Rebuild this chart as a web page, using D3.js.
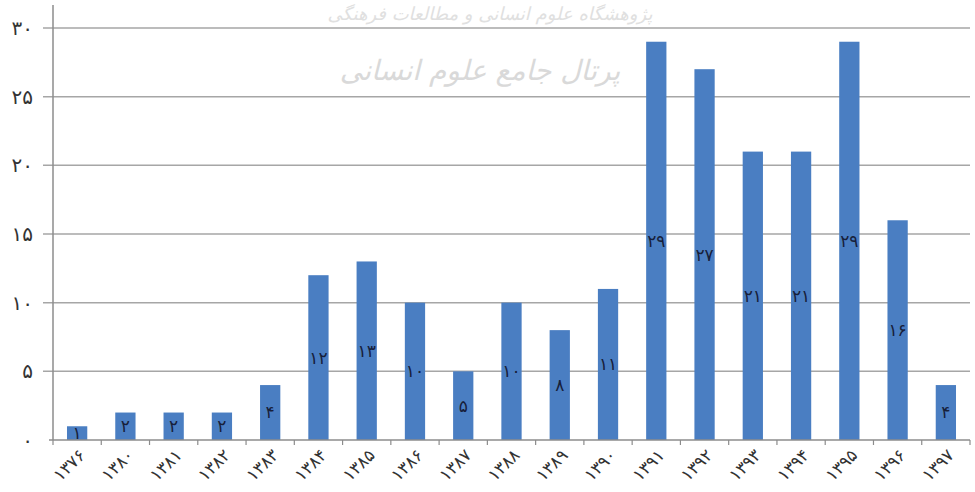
<!DOCTYPE html>
<html>
<head>
<meta charset="utf-8">
<script src="https://cdn.jsdelivr.net/npm/d3@7"></script>
<style>
  html, body { margin: 0; padding: 0; background: #fff; }
  svg { display: block; }
</style>
</head>
<body>
<div id="chart"></div>
<script>
// Persian-year categories and article counts
const years = [1376, 1380, 1381, 1382, 1383, 1384, 1385, 1386, 1387, 1388,
  1389, 1390, 1391, 1392, 1393, 1394, 1395, 1396, 1397];
const counts = [1, 2, 2, 2, 4, 12, 13, 10, 5, 10, 8, 11, 29, 27, 21, 21, 29, 16, 4];
const yTicks = [0, 5, 10, 15, 20, 25, 30];

const W = 975, H = 492;
const MARGIN = { top: 28, right: 5, bottom: 52, left: 53 };
const innerW = W - MARGIN.left - MARGIN.right;
const innerH = H - MARGIN.top - MARGIN.bottom;

const FA_DIGITS = '۰۱۲۳۴۵۶۷۸۹';
const fa = n => String(n).replace(/\d/g, d => FA_DIGITS[d]);

const data = years.map((yr, i) => ({ year: yr, value: counts[i] }));

const svg = d3.select('#chart').append('svg')
  .attr('width', W)
  .attr('height', H)
  .attr('font-family', 'DejaVu Sans, sans-serif');

// faint watermark, as in the scanned source
svg.append('text')
  .attr('x', 490).attr('y', 20)
  .attr('text-anchor', 'middle')
  .attr('font-size', 18)
  .attr('font-style', 'italic')
  .attr('fill', '#e0e0e0')
  .text('پژوهشگاه علوم انسانی و مطالعات فرهنگی');
svg.append('text')
  .attr('x', 480).attr('y', 80)
  .attr('text-anchor', 'middle')
  .attr('font-size', 28)
  .attr('font-style', 'italic')
  .attr('fill', '#d9d9d9')
  .text('پرتال جامع علوم انسانی');

const g = svg.append('g').attr('transform', `translate(${MARGIN.left}, ${MARGIN.top})`);

const x = d3.scaleBand()
  .domain(years)
  .range([0, innerW])
  .paddingInner(0.58)
  .paddingOuter(0.29);

const y = d3.scaleLinear().domain([0, 30]).range([innerH, 0]);

// Grid lines
g.append('g')
  .selectAll('line')
  .data(yTicks.filter(d => d > 0))
  .join('line')
  .attr('x1', -10).attr('x2', innerW)
  .attr('y1', d => y(d)).attr('y2', d => y(d))
  .attr('stroke', '#a6a6a6')
  .attr('stroke-width', 1.5);

// Y labels
g.append('g')
  .selectAll('text')
  .data(yTicks)
  .join('text')
  .attr('x', -20)
  .attr('y', d => y(d))
  .attr('dy', '0.35em')
  .attr('text-anchor', 'end')
  .attr('font-size', 20)
  .attr('fill', '#333')
  .text(d => fa(d));

// Bars
g.append('g')
  .selectAll('rect')
  .data(data)
  .join('rect')
  .attr('x', d => x(d.year))
  .attr('y', d => y(d.value))
  .attr('width', x.bandwidth())
  .attr('height', d => innerH - y(d.value))
  .attr('fill', '#4a7ec2');

// Value labels at bar centre
g.append('g')
  .selectAll('text')
  .data(data)
  .join('text')
  .attr('x', d => x(d.year) + x.bandwidth() / 2)
  .attr('y', d => y(d.value / 2))
  .attr('dy', '0.35em')
  .attr('text-anchor', 'middle')
  .attr('font-size', 17)
  .attr('fill', '#17203a')
  .text(d => fa(d.value));

// Axes lines
g.append('line')
  .attr('x1', 0).attr('x2', 0)
  .attr('y1', -23).attr('y2', innerH)
  .attr('stroke', '#8c8c8c').attr('stroke-width', 1.5);
g.append('line')
  .attr('x1', -4).attr('x2', innerW)
  .attr('y1', innerH).attr('y2', innerH)
  .attr('stroke', '#8c8c8c').attr('stroke-width', 1.5);

// X ticks at band boundaries
const step = x.step();
const boundaries = d3.range(years.length + 1).map(i => x(years[0]) - x.paddingOuter() * step + i * step);
g.append('g')
  .selectAll('line')
  .data(boundaries)
  .join('line')
  .attr('x1', d => d).attr('x2', d => d)
  .attr('y1', innerH).attr('y2', innerH + 5)
  .attr('stroke', '#8c8c8c').attr('stroke-width', 1.2);

// X labels, rotated
g.append('g')
  .selectAll('text')
  .data(years)
  .join('text')
  .attr('transform', d => `translate(${x(d) + x.bandwidth() / 2 + 5}, ${innerH + 12}) rotate(-45)`)
  .attr('text-anchor', 'end')
  .attr('dy', '0.35em')
  .attr('font-size', 17)
  .attr('fill', '#333')
  .text(d => fa(d));
</script>
</body>
</html>
